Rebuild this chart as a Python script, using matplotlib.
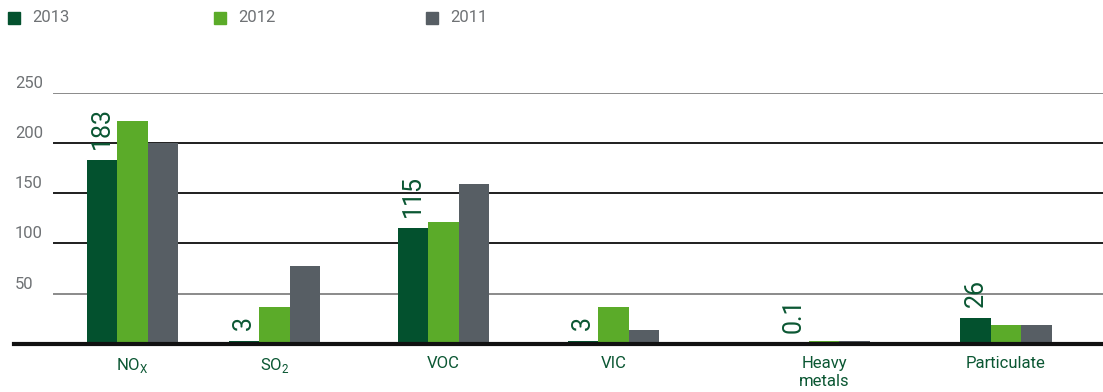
import matplotlib
matplotlib.use("Agg")
import matplotlib.pyplot as plt
import matplotlib.transforms as mtransforms
import numpy as np

# Emissions by substance (tonnes)
categories = [r"NO$_\mathregular{X}$", r"SO$_\mathregular{2}$", "VOC", "VIC", "Heavy\nmetals", "Particulate"]
years = ["2013", "2012", "2011"]
values_2013 = [183, 3, 115, 3, 0.1, 26]
values_2012 = [222, 37, 121, 37, 3, 19]
values_2011 = [200, 78, 159, 14, 3, 19]
labels_2013 = ["183", "3", "115", "3", "0.1", "26"]
y_ticks = [50, 100, 150, 200, 250]

colors = ["#03512E", "#5BAB29", "#575E64"]
label_green = "#0B5733"
tick_grey = "#6F7275"

plt.rcParams["font.family"] = ["Roboto", "DejaVu Sans"]
plt.rcParams["mathtext.fontset"] = "custom"
plt.rcParams["mathtext.rm"] = "Roboto"

W, H = 1103, 392
fig = plt.figure(figsize=(W / 100, H / 100), dpi=100)

# axes spans from the baseline start to the right edge
x0_px, base_px, top_px = 14, 344, 92.7
ax = fig.add_axes([x0_px / W, (H - base_px) / H, (W - x0_px) / W, (base_px - top_px) / H])
ax.set_xlim(x0_px, W)
ax.set_ylim(0, 250)
for s in ax.spines.values():
    s.set_visible(False)
ax.set_xticks([])
ax.set_yticks([])

# group centres along the axis (uneven spacing)
centers = [132.5, 274.5, 443.5, 613.5, 824, 1006]
bar_w = 30.5
series = [values_2013, values_2012, values_2011]

# gridlines
grid_start = (54 - x0_px) / (W - x0_px)
for t in y_ticks:
    c = "#8A8A8A" if t in (50, 250) else "#1E1E1E"
    ax.axhline(t, xmin=grid_start, xmax=1, color=c, lw=1.4, zorder=1)

for i, (vals, col) in enumerate(zip(series, colors)):
    xs = np.array(centers) + (i - 1) * bar_w
    ax.bar(xs, vals, width=bar_w, color=col, zorder=2, linewidth=0)

# baseline
ax.axhline(0, color="#111111", lw=3, zorder=3, clip_on=False)

# value labels on 2013 bars
for c, v, lab in zip(centers, values_2013, labels_2013):
    ax.annotate(lab, (c - bar_w, v), xytext=(0, 8), textcoords="offset points",
                rotation=90, ha="center", va="bottom", fontsize=18,
                color=label_green, zorder=4)

# y tick labels sit above their gridlines at the left edge
trans = mtransforms.blended_transform_factory(fig.transFigure, ax.transData)
for t in y_ticks:
    ax.annotate(str(t), (15 / W, t), xycoords=trans, xytext=(0, 1.5),
                textcoords="offset points", ha="left", va="bottom",
                fontsize=12, color=tick_grey)

# category labels under the axis
for c, lab in zip(centers, categories):
    ax.annotate(lab, (c, 0), xytext=(0, -8.5), textcoords="offset points",
                ha="center", va="top", fontsize=12, color=label_green,
                linespacing=1.3, annotation_clip=False)

# legend across the top
leg_x = [8, 214, 426]
for x, col, yr in zip(leg_x, colors, years):
    fig.patches.append(plt.Rectangle((x / W, (H - 24) / H), 12 / W, 12 / H,
                                     transform=fig.transFigure, color=col, figure=fig))
    fig.text((x + 24) / W, (H - 18) / H, yr, ha="left", va="center",
             fontsize=12, color=tick_grey)

fig.savefig("out.png", dpi=100)
